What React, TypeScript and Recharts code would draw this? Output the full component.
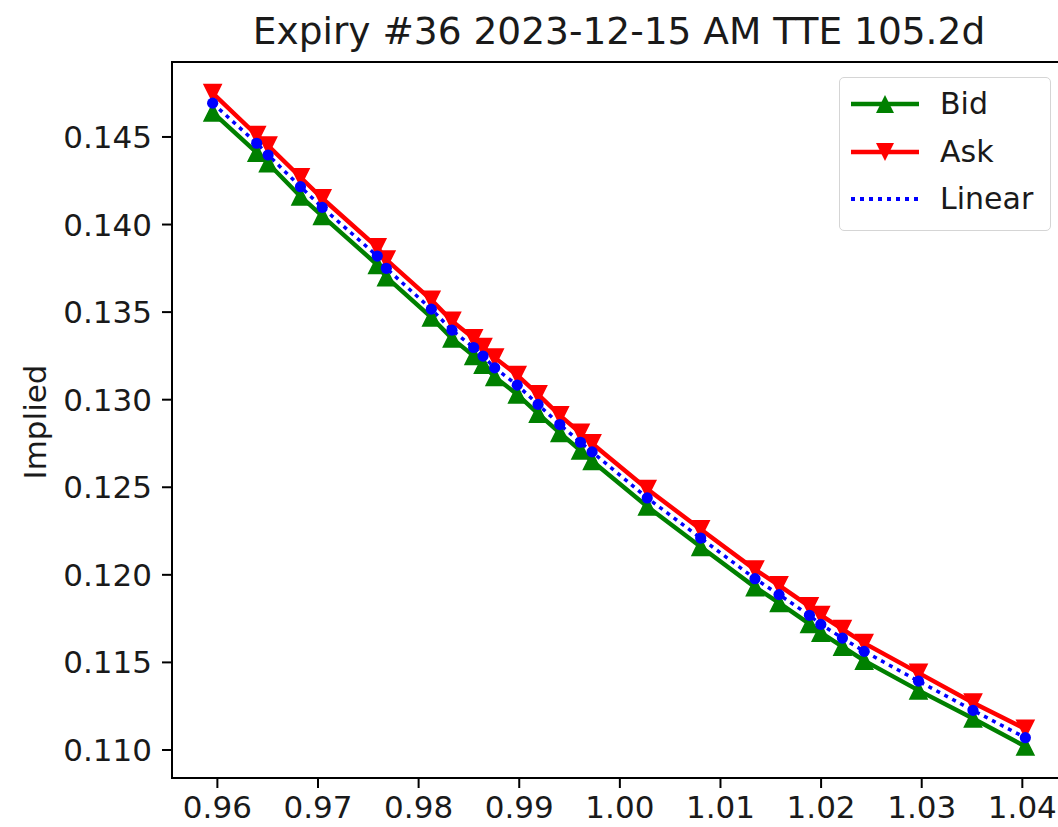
import { LineChart, Line, XAxis, YAxis, ReferenceArea } from 'recharts';

const strikes = [
  0.95953, 0.96391, 0.96504, 0.96826, 0.97042, 0.97589, 0.97679, 0.98126, 0.98331, 0.98547,
  0.9864, 0.98756, 0.9898, 0.99187, 0.99403, 0.99609, 0.99724, 1.00272, 1.00803, 1.01343,
  1.01582, 1.01884, 1.01997, 1.02212, 1.02428, 1.02968, 1.0351, 1.0403,
];

const bidVols = [
  0.1464, 0.1441, 0.1435, 0.1416, 0.1405, 0.1377, 0.137, 0.1347, 0.1335, 0.1325,
  0.132, 0.1313, 0.1303, 0.1292, 0.1281, 0.1271, 0.1265, 0.1239, 0.1216, 0.1193,
  0.1184, 0.1172, 0.1167, 0.1159, 0.1151, 0.1134, 0.1118, 0.1102,
];

const askVols = [
  0.1475, 0.1451, 0.1445, 0.1427, 0.1415, 0.1387, 0.138, 0.1357, 0.1345, 0.1335,
  0.133, 0.1324, 0.1314, 0.1303, 0.1291, 0.1281, 0.1275, 0.1249, 0.1226, 0.1203,
  0.1194, 0.1182, 0.1177, 0.1169, 0.1161, 0.1144, 0.1127, 0.1112,
];

const linearVols = [
  0.14693, 0.14464, 0.14397, 0.14216, 0.14098, 0.1382, 0.1375, 0.13517, 0.13397, 0.13298,
  0.13249, 0.13182, 0.13083, 0.12973, 0.12858, 0.12757, 0.12702, 0.12439, 0.1221, 0.11978,
  0.11887, 0.11769, 0.11717, 0.11639, 0.11563, 0.11393, 0.11226, 0.1107,
];

const xTicks = [0.96, 0.97, 0.98, 0.99, 1.0, 1.01, 1.02, 1.03, 1.04];
const yTicks = [0.11, 0.115, 0.12, 0.125, 0.13, 0.135, 0.14, 0.145];

const X_DOMAIN: [number, number] = [0.95549, 1.04434];
const Y_DOMAIN: [number, number] = [0.1084, 0.14928];

const data = strikes.map((k, i) => ({
  k,
  bid: bidVols[i],
  ask: askVols[i],
  linear: linearVols[i],
}));

const FONT = '"DejaVu Sans", sans-serif';
const TEXT = '#1a1a1a';
const GREEN = '#008000';
const RED = '#ff0000';
const BLUE = '#0000ff';

const triangle = (up: boolean, color: string) => (props: any) => {
  const { cx, cy, index } = props;
  if (cx == null || cy == null) return <g key={`t-${index}`} />;
  const h = 8.6;
  const d = up
    ? `M${cx},${cy - h} L${cx - h},${cy + h} L${cx + h},${cy + h} Z`
    : `M${cx},${cy + h} L${cx - h},${cy - h} L${cx + h},${cy - h} Z`;
  return <path key={`t-${index}`} d={d} fill={color} stroke={color} strokeWidth={1.5} />;
};

const blueDot = (props: any) => {
  const { cx, cy, index } = props;
  if (cx == null || cy == null) return <g key={`d-${index}`} />;
  return <circle key={`d-${index}`} cx={cx} cy={cy} r={5.6} fill={BLUE} />;
};

function LegendBox() {
  const rows = [
    { name: 'Bid', color: GREEN, kind: 'up' },
    { name: 'Ask', color: RED, kind: 'down' },
    { name: 'Linear', color: BLUE, kind: 'dot' },
  ];
  return (
    <div
      style={{
        position: 'absolute',
        left: 839,
        top: 77,
        width: 210,
        height: 152,
        border: '1.5px solid #d5d5d5',
        borderRadius: 5,
        background: 'rgba(255,255,255,0.8)',
      }}
    >
      {rows.map((r, i) => (
        <div
          key={r.name}
          style={{ position: 'absolute', left: 0, top: 26 + i * 47.5 - 20, height: 40, width: '100%' }}
        >
          <svg width={80} height={40} style={{ position: 'absolute', left: 9, top: 0 }}>
            {r.kind === 'dot' ? (
              <line x1={2} y1={20} x2={70} y2={20} stroke={BLUE} strokeWidth={4} strokeDasharray="4 5" />
            ) : (
              <line x1={2} y1={20} x2={70} y2={20} stroke={r.color} strokeWidth={4.4} />
            )}
            {r.kind === 'up' && <path d="M36,11 L27,29 L45,29 Z" fill={r.color} />}
            {r.kind === 'down' && <path d="M36,29 L27,11 L45,11 Z" fill={r.color} />}
          </svg>
          <span
            style={{
              position: 'absolute',
              left: 100,
              top: 0,
              lineHeight: '40px',
              fontFamily: FONT,
              fontSize: 30,
              color: TEXT,
            }}
          >
            {r.name}
          </span>
        </div>
      ))}
    </div>
  );
}

export default function App() {
  return (
    <div
      style={{
        position: 'absolute',
        left: 0,
        top: 0,
        width: 1058,
        height: 827,
        overflow: 'hidden',
        background: '#fff',
      }}
    >
      <div
        style={{
          position: 'absolute',
          left: 119,
          width: 1000,
          top: 9,
          textAlign: 'center',
          fontFamily: FONT,
          fontSize: 37.5,
          color: TEXT,
          whiteSpace: 'nowrap',
        }}
      >
        Expiry #36 2023-12-15 AM TTE 105.2d
      </div>
      <div
        style={{
          position: 'absolute',
          left: 35,
          top: 422,
          transform: 'translate(-50%, -50%) rotate(-90deg)',
          fontFamily: FONT,
          fontSize: 31,
          color: TEXT,
          whiteSpace: 'nowrap',
        }}
      >
        Implied
      </div>
      <LineChart
        width={1100}
        height={827}
        data={data}
        margin={{ top: 62, right: 34, bottom: 0, left: 0 }}
      >
        <XAxis
          dataKey="k"
          type="number"
          domain={X_DOMAIN}
          allowDataOverflow
          ticks={xTicks}
          interval={0}
          tickFormatter={(v: number) => v.toFixed(2)}
          height={49}
          tickSize={10}
          tickMargin={8}
          axisLine={{ stroke: '#000', strokeWidth: 2 }}
          tickLine={{ stroke: '#000', strokeWidth: 2 }}
          tick={{ fill: TEXT, fontSize: 31, fontFamily: FONT }}
        />
        <YAxis
          type="number"
          domain={Y_DOMAIN}
          allowDataOverflow
          ticks={yTicks}
          interval={0}
          tickFormatter={(v: number) => v.toFixed(3)}
          width={172}
          tickSize={10}
          tickMargin={10}
          axisLine={{ stroke: '#000', strokeWidth: 2 }}
          tickLine={{ stroke: '#000', strokeWidth: 2 }}
          tick={{ fill: TEXT, fontSize: 31, fontFamily: FONT }}
        />
        <ReferenceArea
          x1={X_DOMAIN[0]}
          x2={X_DOMAIN[1]}
          y1={Y_DOMAIN[0]}
          y2={Y_DOMAIN[1]}
          fill="none"
          stroke="#000"
          strokeWidth={2}
          ifOverflow="visible"
        />
        <Line
          dataKey="bid"
          stroke={GREEN}
          strokeWidth={4.4}
          dot={triangle(true, GREEN)}
          activeDot={false}
          isAnimationActive={false}
        />
        <Line
          dataKey="ask"
          stroke={RED}
          strokeWidth={4.4}
          dot={triangle(false, RED)}
          activeDot={false}
          isAnimationActive={false}
        />
        <Line
          dataKey="linear"
          stroke={BLUE}
          strokeWidth={3.5}
          strokeDasharray="4 5"
          dot={blueDot}
          activeDot={false}
          isAnimationActive={false}
        />
      </LineChart>
      <LegendBox />
    </div>
  );
}
